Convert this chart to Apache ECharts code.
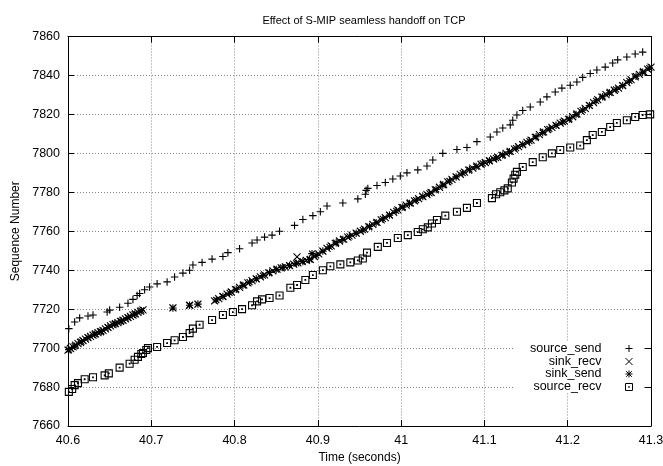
<!DOCTYPE html>
<html>
<head>
<meta charset="utf-8">
<script src="https://cdn.jsdelivr.net/npm/echarts@6/dist/echarts.min.js"></script>
<style>
  html, body { margin: 0; padding: 0; background: #fff; }
  #main { width: 663px; height: 466px; }
</style>
</head>
<body>
<div id="main"></div>
<script>
// [time (s), sequence number]
var sourceSend = [
    [40.601, 7710], [40.608, 7713.4], [40.614, 7715.5], [40.624, 7716.5], [40.630, 7717],
    [40.647, 7718.5], [40.650, 7719.5], [40.662, 7721], [40.672, 7723], [40.678, 7725],
    [40.683, 7727], [40.686, 7728], [40.692, 7730], [40.698, 7731.4], [40.707, 7733],
    [40.719, 7734], [40.728, 7736.5], [40.738, 7738.5], [40.746, 7740], [40.750, 7742.7],
    [40.761, 7744], [40.773, 7745.7], [40.786, 7747], [40.792, 7749], [40.806, 7751],
    [40.821, 7754], [40.827, 7755.5], [40.836, 7757], [40.845, 7758], [40.854, 7760],
    [40.872, 7763], [40.882, 7766], [40.894, 7768], [40.903, 7770], [40.911, 7773],
    [40.930, 7774.5], [40.948, 7776.6], [40.957, 7779], [40.958, 7781], [40.960, 7782],
    [40.971, 7783.5], [40.981, 7785], [40.990, 7786.8], [40.999, 7788.4], [41.007, 7790],
    [41.020, 7791.5], [41.031, 7793.5], [41.038, 7796.6], [41.050, 7800], [41.067, 7802],
    [41.079, 7803], [41.091, 7806], [41.107, 7808.4], [41.115, 7811], [41.122, 7813],
    [41.131, 7814.6], [41.134, 7817], [41.139, 7819.7], [41.146, 7822], [41.155, 7823.8],
    [41.167, 7826.4], [41.175, 7829], [41.185, 7831.5], [41.193, 7833.5], [41.203, 7835],
    [41.211, 7836.6], [41.218, 7839], [41.227, 7841], [41.235, 7842.8], [41.245, 7844.3],
    [41.254, 7846.4], [41.260, 7848], [41.271, 7849.5], [41.281, 7851], [41.290, 7852]
];

var sinkRecv = [
    [40.600, 7699.0], [40.603, 7699.8], [40.606, 7700.6], [40.609, 7701.5], [40.612, 7702.3],
    [40.615, 7703.0], [40.618, 7703.9], [40.621, 7704.6], [40.624, 7705.4], [40.627, 7706.0],
    [40.630, 7706.7], [40.633, 7707.3], [40.636, 7707.9], [40.639, 7708.4], [40.642, 7709.1],
    [40.645, 7709.9], [40.648, 7710.6], [40.651, 7711.4], [40.654, 7712.0], [40.657, 7712.6],
    [40.660, 7713.1], [40.663, 7713.7], [40.666, 7714.3], [40.669, 7715.0], [40.672, 7715.6],
    [40.675, 7716.3], [40.678, 7717.0], [40.681, 7717.6], [40.684, 7718.3], [40.687, 7719.0],
    [40.690, 7719.6], [40.726, 7720.6], [40.746, 7722.0], [40.756, 7722.6],
    [40.776, 7724.3], [40.781, 7725.4], [40.786, 7726.5], [40.791, 7727.7], [40.796, 7728.8],
    [40.801, 7730.0], [40.806, 7731.2], [40.811, 7732.4], [40.816, 7733.5], [40.821, 7734.6],
    [40.826, 7735.6], [40.831, 7736.6], [40.836, 7737.6], [40.841, 7738.6], [40.846, 7739.6],
    [40.851, 7740.5], [40.856, 7741.2], [40.861, 7741.7], [40.866, 7742.4], [40.871, 7743.1],
    [40.875, 7746.8], [40.876, 7743.8], [40.881, 7744.4], [40.886, 7745.0], [40.891, 7745.6],
    [40.896, 7747.0], [40.901, 7748.4], [40.906, 7749.8], [40.911, 7751.2], [40.916, 7752.5],
    [40.921, 7753.8], [40.926, 7755.0], [40.931, 7756.0], [40.936, 7757.0], [40.941, 7758.0],
    [40.946, 7759.0], [40.951, 7760.0], [40.956, 7761.1], [40.961, 7762.3], [40.966, 7763.5],
    [40.971, 7764.6], [40.976, 7765.8], [40.981, 7767.0], [40.986, 7768.3], [40.991, 7769.7],
    [40.996, 7771.0], [41.001, 7772.2], [41.006, 7773.4], [41.011, 7774.5], [41.016, 7775.6],
    [41.021, 7776.7], [41.026, 7777.8], [41.031, 7778.8], [41.036, 7779.9], [41.041, 7781.2],
    [41.046, 7782.6], [41.051, 7784.0], [41.056, 7785.3], [41.061, 7786.6], [41.066, 7787.9],
    [41.071, 7789.2], [41.076, 7790.4], [41.081, 7791.4], [41.086, 7792.4], [41.091, 7793.4],
    [41.096, 7794.4], [41.101, 7795.3], [41.106, 7796.2], [41.111, 7797.1], [41.116, 7798.0],
    [41.121, 7799.0], [41.126, 7800.0], [41.131, 7801.0], [41.136, 7802.2], [41.141, 7803.4],
    [41.146, 7804.5], [41.151, 7805.6], [41.156, 7806.8], [41.161, 7808.2], [41.166, 7809.6],
    [41.171, 7811.0], [41.176, 7812.2], [41.181, 7813.3], [41.186, 7814.4], [41.191, 7815.5],
    [41.196, 7816.5], [41.201, 7817.5], [41.206, 7818.8], [41.211, 7820.2], [41.216, 7821.6],
    [41.221, 7823.1], [41.226, 7824.6], [41.231, 7826.1], [41.236, 7827.6], [41.241, 7828.9],
    [41.246, 7830.1], [41.251, 7831.3], [41.256, 7832.4], [41.261, 7833.5], [41.266, 7834.8],
    [41.271, 7836.3], [41.276, 7837.8], [41.281, 7839.3], [41.286, 7840.6], [41.291, 7841.9],
    [41.296, 7843.2], [41.300, 7844.3]
];

var sinkSend = [
    [40.601, 7699.2], [40.608, 7701.0], [40.616, 7703.3], [40.624, 7705.4], [40.632, 7707.1],
    [40.640, 7708.6], [40.648, 7710.6], [40.656, 7712.4], [40.664, 7713.9], [40.672, 7715.6],
    [40.680, 7717.4], [40.688, 7719.2], [40.726, 7720.6], [40.746, 7722.0], [40.756, 7722.6],
    [40.778, 7724.7], [40.786, 7726.5], [40.794, 7728.3], [40.802, 7730.2], [40.810, 7732.2],
    [40.818, 7733.9], [40.826, 7735.6], [40.834, 7737.2], [40.842, 7738.8], [40.850, 7740.3],
    [40.858, 7741.4], [40.866, 7742.4], [40.874, 7743.5], [40.882, 7744.5], [40.890, 7745.5],
    [40.893, 7748.5], [40.898, 7747.6], [40.906, 7749.8], [40.914, 7752.0], [40.922, 7754.1],
    [40.930, 7755.8], [40.938, 7757.4], [40.946, 7759.0], [40.954, 7760.6], [40.962, 7762.5],
    [40.970, 7764.4], [40.978, 7766.3], [40.986, 7768.3], [40.994, 7770.5], [41.002, 7772.4],
    [41.010, 7774.3], [41.018, 7776.0], [41.026, 7777.8], [41.034, 7779.5], [41.042, 7781.5],
    [41.050, 7783.7], [41.058, 7785.8], [41.066, 7787.9], [41.074, 7789.9], [41.082, 7791.6],
    [41.090, 7793.2], [41.098, 7794.8], [41.106, 7796.2], [41.114, 7797.6], [41.122, 7799.2],
    [41.130, 7800.8], [41.138, 7802.7], [41.146, 7804.5], [41.154, 7806.3], [41.162, 7808.5],
    [41.170, 7810.7], [41.178, 7812.6], [41.186, 7814.4], [41.194, 7816.1], [41.202, 7817.7],
    [41.210, 7819.9], [41.218, 7822.2], [41.226, 7824.6], [41.234, 7827.0], [41.242, 7829.1],
    [41.250, 7831.1], [41.258, 7832.8], [41.266, 7834.8], [41.274, 7837.2], [41.282, 7839.6],
    [41.290, 7841.7], [41.298, 7843.8]
];

var sourceRecv = [
    [40.601, 7677.5], [40.605, 7679], [40.608, 7681], [40.612, 7682], [40.620, 7684],
    [40.630, 7685], [40.644, 7686], [40.649, 7687], [40.662, 7690], [40.674, 7692],
    [40.680, 7694], [40.684, 7695.5], [40.688, 7697], [40.690, 7697.5], [40.694, 7699],
    [40.696, 7700], [40.707, 7700.6], [40.719, 7702.6], [40.728, 7704], [40.738, 7705.7],
    [40.746, 7707.7], [40.750, 7710], [40.758, 7712], [40.773, 7714.4], [40.786, 7717],
    [40.798, 7718.5], [40.809, 7720], [40.821, 7722], [40.827, 7724], [40.833, 7725],
    [40.842, 7725.7], [40.854, 7727], [40.867, 7731], [40.875, 7732.4], [40.885, 7735],
    [40.894, 7737.5], [40.906, 7740], [40.915, 7742], [40.927, 7743], [40.939, 7744],
    [40.948, 7745], [40.954, 7746], [40.959, 7749], [40.972, 7752], [40.983, 7754],
    [40.996, 7756.5], [41.008, 7758], [41.020, 7759.6], [41.026, 7761], [41.032, 7762],
    [41.037, 7764], [41.043, 7765.8], [41.053, 7768], [41.067, 7770], [41.079, 7772],
    [41.091, 7774.5], [41.109, 7777], [41.114, 7779], [41.119, 7780], [41.124, 7781],
    [41.128, 7782], [41.133, 7785], [41.135, 7787], [41.137, 7789], [41.139, 7790.5],
    [41.146, 7793], [41.158, 7795.5], [41.170, 7798], [41.181, 7800], [41.191, 7801.7],
    [41.203, 7803], [41.215, 7804], [41.223, 7806.8], [41.230, 7809.4], [41.241, 7811],
    [41.251, 7813.5], [41.259, 7815.6], [41.271, 7817], [41.281, 7818.7], [41.290, 7819.7],
    [41.299, 7820]
];

var seriesNames = ['source_send', 'sink_recv', 'sink_send', 'source_recv'];

// gnuplot-like point types
var plusPath = 'path://M0,5L10,5M5,0L5,10';
var crossPath = 'path://M0,0L10,10M10,0L0,10';
var starPath = 'path://M0,5L10,5M5,0L5,10M1,1L9,9M9,1L1,9';
var boxPath = 'path://M0,0L10,0L10,10L0,10ZM4.5,4.5L5.5,4.5L5.5,5.5L4.5,5.5Z';

var font = 'Liberation Sans, Arial, Helvetica, sans-serif';
var markStyle = { color: 'transparent', borderColor: '#000', borderWidth: 1.1, opacity: 1 };

var myChart = echarts.init(document.getElementById('main'));

function mkSeries(name, data, symbol, size) {
    return {
        name: name,
        type: 'scatter',
        data: data,
        symbol: symbol,
        symbolSize: size,
        itemStyle: markStyle,
        emphasis: { disabled: true },
        silent: true,
        animation: false
    };
}

function mkLegend(name, top) {
    return {
        data: [name],
        right: 30,
        top: top,
        padding: 0,
        align: 'right',
        itemWidth: 7,
        itemHeight: 7,
        selectedMode: false,
        itemStyle: { color: 'transparent', borderColor: '#000', borderWidth: 1 },
        textStyle: { fontFamily: font, fontSize: 12.5, color: '#000', lineHeight: 13, padding: [0, 19, 0, 0] }
    };
}

var axisCommon = {
    axisLine: { show: true, lineStyle: { color: '#000', width: 1 } },
    axisTick: { show: true, inside: true, length: 6, lineStyle: { color: '#000' } }
};

var option = {
    animation: false,
    title: {
        text: 'Effect of S-MIP seamless handoff on TCP',
        left: 359,
        textAlign: 'center',
        top: 10,
        textStyle: { fontFamily: font, fontSize: 11, fontWeight: 'normal', color: '#000' }
    },
    grid: {
        left: 68,
        right: 12,
        top: 36.5,
        bottom: 40,
        containLabel: false,
        outerBoundsMode: 'none'
    },
    legend: [
        mkLegend(seriesNames[0], 342),
        mkLegend(seriesNames[1], 355),
        mkLegend(seriesNames[2], 367.5),
        mkLegend(seriesNames[3], 380.5)
    ],
    graphic: [{
        type: 'rect',
        z: 3,
        shape: { x: 513, y: 341, width: 130, height: 52 },
        style: { fill: '#fff' },
        silent: true
    }],
    xAxis: [{
        type: 'value',
        min: 40.6,
        max: 41.3,
        interval: 0.1,
        name: 'Time (seconds)',
        nameLocation: 'middle',
        nameGap: 25,
        nameTextStyle: { fontFamily: font, fontSize: 12, color: '#000' },
        axisLine: axisCommon.axisLine,
        axisTick: axisCommon.axisTick,
        axisLabel: {
            fontFamily: font, fontSize: 12.5, color: '#000', margin: 8,
            showMinLabel: true, showMaxLabel: true,
            formatter: function (v) { return String(+v.toFixed(1)); }
        },
        splitLine: { show: true, lineStyle: { color: '#888', type: [1, 2], width: 1 } }
    }, {
        type: 'value',
        position: 'top',
        min: 40.6,
        max: 41.3,
        interval: 0.1,
        axisLine: axisCommon.axisLine,
        axisTick: axisCommon.axisTick,
        axisLabel: { show: false },
        splitLine: { show: false }
    }],
    yAxis: [{
        type: 'value',
        min: 7660,
        max: 7860,
        interval: 20,
        name: 'Sequence Number',
        nameLocation: 'middle',
        nameGap: 46,
        nameTextStyle: { fontFamily: font, fontSize: 12, color: '#000' },
        axisLine: axisCommon.axisLine,
        axisTick: axisCommon.axisTick,
        axisLabel: {
            fontFamily: font, fontSize: 12.5, color: '#000', margin: 8,
            formatter: function (v) { return String(v); }
        },
        splitLine: { show: true, lineStyle: { color: '#888', type: [1, 2], width: 1 } }
    }, {
        type: 'value',
        position: 'right',
        min: 7660,
        max: 7860,
        interval: 20,
        axisLine: axisCommon.axisLine,
        axisTick: axisCommon.axisTick,
        axisLabel: { show: false },
        splitLine: { show: false }
    }],
    series: [
        mkSeries(seriesNames[0], sourceSend, plusPath, 7.5),
        mkSeries(seriesNames[1], sinkRecv, crossPath, 7),
        mkSeries(seriesNames[2], sinkSend, starPath, 7.5),
        mkSeries(seriesNames[3], sourceRecv, boxPath, 7)
    ]
};

myChart.setOption(option, true);
window.onresize = myChart.resize;
</script>
</body>
</html>
